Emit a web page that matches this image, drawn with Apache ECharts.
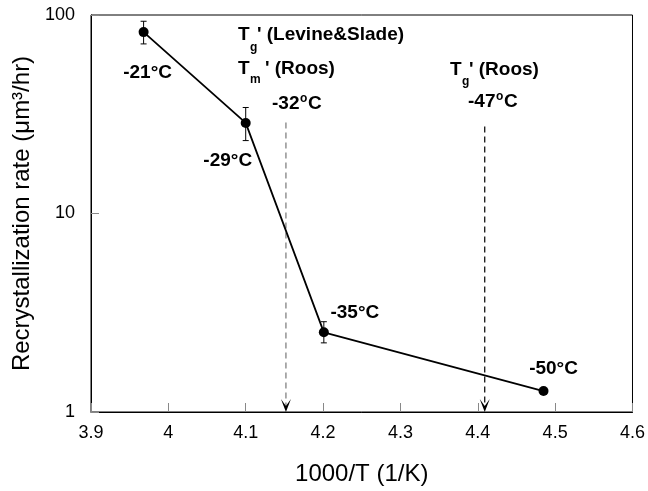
<!DOCTYPE html>
<html>
<head>
<meta charset="utf-8">
<script src="https://cdn.jsdelivr.net/npm/echarts@6/dist/echarts.min.js"></script>
<style>
html, body { margin: 0; padding: 0; background: #fff; }
#main { width: 648px; height: 491px; }
</style>
</head>
<body>
<div id="main"></div>
<script>
// data
var invT = [3.968, 4.1, 4.201, 4.485];
var rate = [82, 28.6, 2.52, 1.275];
var rateLow = [71.5, 23.3, 2.23, null];
var rateHigh = [93, 34.2, 2.85, null];
var tempLabels = ['-21°C', '-29°C', '-35°C', '-50°C'];
// reference temperatures (dashed arrows)
var refX = [4.152, 4.409];
var refTop = [28.7, 27.4];

var FONT = "'Liberation Sans', Arial, sans-serif";
var labelOffsets = [[4, 41], [-18, 38], [31, -20], [10, -22]];
var refColors = ['#777', '#000'];

var myChart = echarts.init(document.getElementById('main'));

var pointData = invT.map(function (x, i) {
  return {
    value: [x, rate[i]],
    label: {
      show: true,
      position: 'inside',
      offset: labelOffsets[i],
      formatter: tempLabels[i]
    }
  };
});

var errData = [];
invT.forEach(function (x, i) {
  if (rateLow[i] != null) errData.push([x, rateLow[i], rateHigh[i]]);
});

var refData = refX.map(function (x, i) { return [x, refTop[i]]; });

function txt(x, y, s, size) {
  return {
    type: 'text', x: x, y: y, silent: true,
    style: {
      text: s, fill: '#000', font: 'bold ' + size + 'px ' + FONT,
      verticalAlign: 'middle', align: 'left'
    }
  };
}

var option = {
  animation: false,
  textStyle: { fontFamily: FONT },
  grid: {
    left: 91, right: 14, top: 15, bottom: 78,
    show: true, borderColor: '#000', borderWidth: 1
  },
  xAxis: {
    type: 'value',
    min: 3.9, max: 4.6, interval: 0.1,
    name: '1000/T (1/K)',
    nameLocation: 'middle',
    nameGap: 50,
    nameTextStyle: { fontSize: 24, color: '#000', fontFamily: FONT },
    axisLine: { lineStyle: { color: '#000', width: 1 } },
    axisTick: { inside: true, length: 9, lineStyle: { color: '#888' } },
    axisLabel: { fontSize: 18, color: '#000', margin: 12, fontFamily: FONT },
    splitLine: { show: false }
  },
  yAxis: {
    type: 'log', logBase: 10,
    min: 1, max: 100,
    name: 'Recrystallization rate (μm³/hr)',
    nameLocation: 'middle',
    nameGap: 54,
    nameTextStyle: { fontSize: 24, color: '#000', fontFamily: FONT },
    axisLine: { lineStyle: { color: '#000', width: 1 } },
    axisTick: { inside: true, length: 8, lineStyle: { color: '#888' } },
    axisLabel: { fontSize: 18, color: '#000', margin: 16, fontFamily: FONT },
    minorTick: { show: false },
    splitLine: { show: false }
  },
  series: [
    {
      type: 'custom',
      z: 1,
      data: refData,
      renderItem: function (params, api) {
        var top = api.coord([api.value(0), api.value(1)]);
        var bot = api.coord([api.value(0), 1]);
        var c = refColors[params.dataIndex];
        return {
          type: 'group',
          children: [
            {
              type: 'line',
              shape: { x1: top[0], y1: top[1], x2: bot[0], y2: bot[1] - 4 },
              style: { stroke: c, lineWidth: 1.2, lineDash: [6, 4] }
            },
            {
              type: 'polygon',
              shape: { points: [[bot[0] - 5, bot[1] - 13], [bot[0], bot[1] - 6], [bot[0] + 5, bot[1] - 13], [bot[0], bot[1]]] },
              style: { fill: '#000' }
            }
          ]
        };
      }
    },
    {
      type: 'custom',
      z: 2,
      data: errData,
      renderItem: function (params, api) {
        var lo = api.coord([api.value(0), api.value(1)]);
        var hi = api.coord([api.value(0), api.value(2)]);
        var st = { stroke: '#000', lineWidth: 1 };
        return {
          type: 'group',
          children: [
            { type: 'line', shape: { x1: lo[0], y1: lo[1], x2: hi[0], y2: hi[1] }, style: st },
            { type: 'line', shape: { x1: lo[0] - 3, y1: lo[1], x2: lo[0] + 3, y2: lo[1] }, style: st },
            { type: 'line', shape: { x1: hi[0] - 3, y1: hi[1], x2: hi[0] + 3, y2: hi[1] }, style: st }
          ]
        };
      }
    },
    {
      type: 'line',
      z: 3,
      data: pointData,
      symbol: 'circle',
      symbolSize: 10,
      itemStyle: { color: '#000' },
      lineStyle: { color: '#000', width: 1.8 },
      label: {
        fontSize: 19, fontWeight: 'bold', color: '#000', fontFamily: FONT,
        align: 'center', verticalAlign: 'middle'
      }
    }
  ],
  graphic: [
    txt(238, 35, 'T', 19),
    txt(250, 48, 'g', 12),
    txt(257, 35, "' (Levine&Slade)", 19),
    txt(238, 69, 'T', 19),
    txt(250, 80, 'm', 12),
    txt(265, 69, "' (Roos)", 19),
    txt(272, 104, '-32', 19),
    txt(300, 99, 'o', 12),
    txt(308, 104, 'C', 19),
    txt(450, 70, 'T', 19),
    txt(462, 82, 'g', 12),
    txt(469, 70, "' (Roos)", 19),
    txt(468, 102, '-47', 19),
    txt(496, 97, 'o', 12),
    txt(504, 102, 'C', 19)
  ]
};

myChart.setOption(option);
</script>
</body>
</html>
